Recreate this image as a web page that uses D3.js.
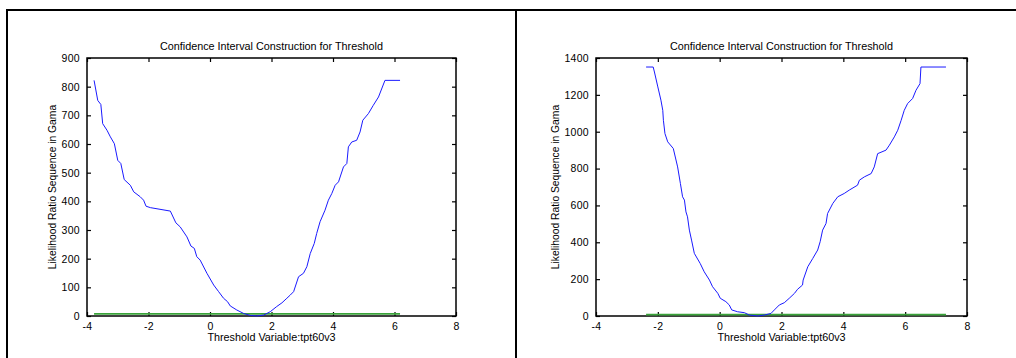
<!DOCTYPE html>
<html>
<head>
<meta charset="utf-8">
<script src="https://cdn.jsdelivr.net/npm/d3@7"></script>
<style>
  body { margin: 0; background: #fff; }
  text { font-family: "Liberation Sans", Arial, sans-serif; fill: #000; }
</style>
</head>
<body>
<div id="chart"></div>
<script>
// left panel: likelihood ratio sequence
var leftX = [-3.77, -3.65, -3.55, -3.49, -3.35, -3.24, -3.11, -3.0, -2.9, -2.79, -2.59, -2.48, -2.27, -2.16, -2.08, -1.94, -1.29, -1.11, -0.97, -0.75, -0.62, -0.51, -0.43, -0.32, -0.10, 0.12, 0.28, 0.44, 0.57, 0.66, 0.87, 1.09, 1.31, 1.52, 1.74, 1.96, 2.17, 2.34, 2.5, 2.61, 2.72, 2.88, 3.04, 3.15, 3.26, 3.39, 3.47, 3.58, 3.74, 3.85, 3.96, 4.07, 4.18, 4.34, 4.45, 4.5, 4.61, 4.77, 4.88, 4.97, 5.15, 5.31, 5.48, 5.69, 6.18];
var leftY = [822, 752, 738, 671, 648, 625, 601, 543, 532, 476, 456, 433, 416, 404, 383, 378, 366, 325, 311, 276, 244, 236, 207, 195, 149, 108, 85, 62, 50, 35, 21, 9, 2, 0, 3, 15, 33, 46, 62, 73, 85, 137, 149, 172, 218, 253, 288, 329, 369, 404, 427, 456, 468, 520, 532, 590, 607, 613, 642, 683, 706, 735, 764, 822, 822];

// right panel
var rightX = [-2.38, -2.15, -2.11, -2.0, -1.9, -1.84, -1.82, -1.77, -1.68, -1.5, -1.36, -1.27, -1.2, -1.14, -1.09, -1.04, -0.98, -0.91, -0.82, -0.63, -0.5, -0.33, -0.23, -0.06, 0.02, 0.2, 0.31, 0.39, 0.58, 0.8, 0.96, 1.23, 1.44, 1.66, 1.77, 1.93, 2.09, 2.25, 2.42, 2.52, 2.68, 2.7, 2.85, 3.01, 3.17, 3.25, 3.33, 3.44, 3.49, 3.66, 3.82, 4.03, 4.19, 4.46, 4.52, 4.68, 4.9, 5.0, 5.11, 5.38, 5.49, 5.65, 5.76, 5.87, 5.97, 6.08, 6.24, 6.35, 6.48, 6.51, 7.32];
var rightY = [1351, 1351, 1324, 1243, 1171, 1116, 1062, 990, 945, 909, 809, 719, 647, 629, 565, 538, 466, 412, 340, 285, 240, 195, 159, 123, 96, 78, 60, 33, 23, 18, 5, 0, 5, 14, 33, 60, 72, 96, 123, 145, 168, 195, 267, 312, 358, 403, 466, 502, 556, 611, 647, 665, 683, 710, 737, 755, 773, 809, 881, 900, 927, 972, 1008, 1062, 1116, 1153, 1180, 1225, 1261, 1351, 1351];

// 95% critical value line
var critValue = 7.35;

var xTicks = [-4, -2, 0, 2, 4, 6, 8];
var leftYTicks = [0, 100, 200, 300, 400, 500, 600, 700, 800, 900];
var rightYTicks = [0, 200, 400, 600, 800, 1000, 1200, 1400];

var titleText = "Confidence Interval Construction for Threshold";
var xLabel = "Threshold Variable:tpt60v3";
var yLabel = "Likelihood Ratio Sequence in Gama";

var svg = d3.select("#chart").append("svg")
    .attr("width", 1016)
    .attr("height", 358);

svg.append("rect").attr("width", 1016).attr("height", 358).attr("fill", "#fff");

// outer frame (top, left and divider)
svg.append("line").attr("x1", 6).attr("y1", 10).attr("x2", 1016).attr("y2", 10)
    .attr("stroke", "#000").attr("stroke-width", 2);
svg.append("line").attr("x1", 7).attr("y1", 9).attr("x2", 7).attr("y2", 358)
    .attr("stroke", "#000").attr("stroke-width", 2);
svg.append("line").attr("x1", 516).attr("y1", 9).attr("x2", 516).attr("y2", 358)
    .attr("stroke", "#000").attr("stroke-width", 2);

function plain(d) { return String(d); }

function drawPanel(box, xs, ys, yMax, yTicks) {
    var g = svg.append("g");
    var x = d3.scaleLinear().domain([-4, 8]).range([box.left, box.right]);
    var y = d3.scaleLinear().domain([0, yMax]).range([box.bottom, box.top]);
    var tickLen = 4;

    // ticks on all four sides, pointing in
    var bottomAxis = d3.axisBottom(x).tickValues(xTicks).tickSizeInner(-tickLen).tickSizeOuter(0).tickPadding(7).tickFormat(plain);
    var topAxis = d3.axisTop(x).tickValues(xTicks).tickSizeInner(-tickLen).tickSizeOuter(0).tickFormat("");
    var leftAxis = d3.axisLeft(y).tickValues(yTicks).tickSizeInner(-tickLen).tickSizeOuter(0).tickPadding(7).tickFormat(plain);
    var rightAxis = d3.axisRight(y).tickValues(yTicks).tickSizeInner(-tickLen).tickSizeOuter(0).tickFormat("");

    var axes = [
        [bottomAxis, "translate(0," + box.bottom + ")"],
        [topAxis, "translate(0," + box.top + ")"],
        [leftAxis, "translate(" + box.left + ",0)"],
        [rightAxis, "translate(" + box.right + ",0)"]
    ];
    axes.forEach(function (a) {
        var ax = g.append("g").attr("transform", a[1]).call(a[0]);
        ax.select(".domain").remove();
        ax.selectAll("line").attr("stroke", "#000").attr("stroke-width", 1.2);
        ax.selectAll("text").attr("font-size", "10.5px").attr("letter-spacing", "0.3px")
            .attr("font-family", "Liberation Sans, Arial, sans-serif").attr("fill", "#000");
    });

    g.append("rect")
        .attr("x", box.left).attr("y", box.top)
        .attr("width", box.right - box.left).attr("height", box.bottom - box.top)
        .attr("fill", "none").attr("stroke", "#000").attr("stroke-width", 1.5);

    var pts = xs.map(function (d, i) { return [d, ys[i]]; });
    var line = d3.line()
        .x(function (d) { return x(d[0]); })
        .y(function (d) { return y(d[1]); });

    // critical value
    g.append("path")
        .datum([[xs[0], critValue], [xs[xs.length - 1], critValue]])
        .attr("d", line)
        .attr("fill", "none")
        .attr("stroke", "#3aa33a")
        .attr("stroke-width", 1.8);

    g.append("path")
        .datum(pts)
        .attr("d", line)
        .attr("fill", "none")
        .attr("stroke", "#1a1aff")
        .attr("stroke-width", 1);

    var cx = (box.left + box.right) / 2;
    g.append("text")
        .attr("x", cx).attr("y", 50)
        .attr("text-anchor", "middle")
        .attr("font-size", "10.8px")
        .text(titleText);

    g.append("text")
        .attr("x", cx).attr("y", 341)
        .attr("text-anchor", "middle")
        .attr("font-size", "10.8px")
        .text(xLabel);

    g.append("text")
        .attr("transform", "translate(" + box.yLabelX + "," + ((box.top + box.bottom) / 2) + ") rotate(-90)")
        .attr("text-anchor", "middle")
        .attr("font-size", "10.3px")
        .text(yLabel);
}

drawPanel({ left: 87, right: 456, top: 58, bottom: 316, yLabelX: 56 }, leftX, leftY, 900, leftYTicks);
drawPanel({ left: 596, right: 967, top: 58, bottom: 316, yLabelX: 559 }, rightX, rightY, 1400, rightYTicks);
</script>
</body>
</html>
